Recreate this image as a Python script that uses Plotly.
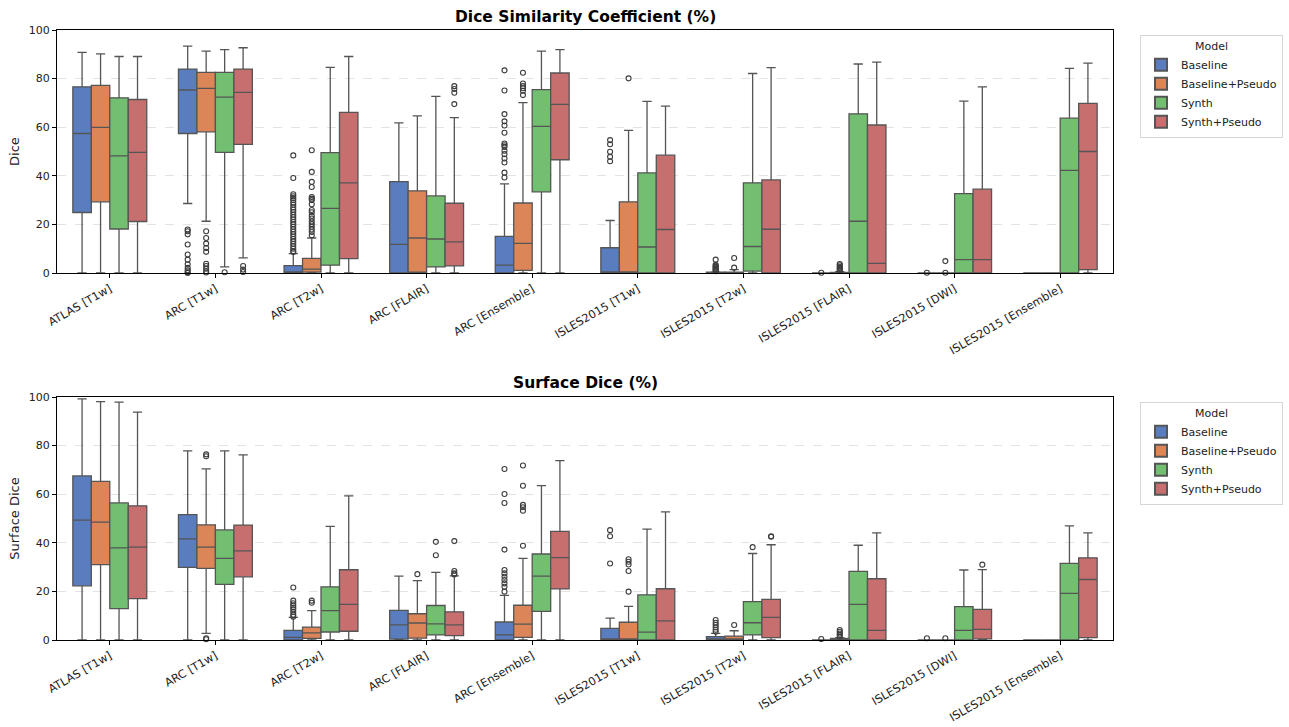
import plotly.graph_objects as go

categories = ["ATLAS [T1w]", "ARC [T1w]", "ARC [T2w]", "ARC [FLAIR]", "ARC [Ensemble]",
              "ISLES2015 [T1w]", "ISLES2015 [T2w]", "ISLES2015 [FLAIR]", "ISLES2015 [DWI]",
              "ISLES2015 [Ensemble]"]
models = ["Baseline", "Baseline+Pseudo", "Synth", "Synth+Pseudo"]
colors = ["#597dbf", "#db8559", "#73bf71", "#c76e6e"]

# ---- Dice: per category [lower whisker, q1, median, q3, upper whisker] ----
dice_baseline = [[0, 24.9, 57.4, 76.6, 90.8], [28.6, 57.4, 75.3, 83.9, 93.4], [0, 0, 0.2, 3.0, 8.0],
                 [0, 0, 11.8, 37.6, 61.8], [0, 0, 3.2, 15.1, 36.7], [0, 0, 0, 10.4, 21.6],
                 [0, 0, 0, 0.3, 0.5], [0, 0, 0, 0, 0], [0, 0, 0, 0, 0], [0, 0, 0, 0, 0]]
dice_baseline_pseudo = [[0, 29.3, 59.9, 77.2, 90.2], [21.3, 58.1, 76.0, 82.6, 91.3], [0, 0.4, 1.6, 6.0, 14.4],
                        [0, 0.3, 14.4, 33.8, 64.7], [0, 1.1, 12.2, 28.8, 70.1], [0, 0, 0, 29.3, 58.7],
                        [0, 0, 0, 0.3, 1.4], [0, 0, 0, 0.2, 0.6], [0, 0, 0, 0, 0], [0, 0, 0, 0, 0]]
dice_synth = [[0, 18.1, 48.2, 72.1, 89.1], [2.5, 49.6, 72.4, 82.6, 91.9], [0, 3.2, 26.6, 49.5, 84.6],
              [0, 2.5, 14.0, 31.7, 72.7], [0, 33.4, 60.3, 75.5, 91.3], [0, 0, 10.7, 41.2, 70.6],
              [0, 0.8, 10.9, 37.1, 82.1], [0, 0, 21.3, 65.5, 86.0], [0, 0, 5.5, 32.7, 70.7],
              [0, 0, 42.2, 63.7, 84.2]]
dice_synth_pseudo = [[0, 21.2, 49.6, 71.4, 89.1], [6.2, 52.9, 74.3, 83.9, 92.7], [0, 5.9, 37.1, 66.1, 89.1],
                     [0, 2.9, 12.8, 28.7, 63.9], [0, 46.6, 69.4, 82.3, 91.9], [0, 0, 17.9, 48.5, 68.7],
                     [0, 0, 18.0, 38.3, 84.5], [0, 0, 4.0, 60.9, 86.8], [0, 0, 5.5, 34.5, 76.6],
                     [0, 1.4, 50.0, 69.8, 86.4]]

dice_baseline_out = [[], [17.9, 17.2, 15.9, 11.7, 7.6, 5.5, 3.6, 2.1, 1.1, 0.3, 0.0],
                     [48.4, 39.1, 32.4, 31.6, 30.8, 30.0, 29.0, 28.1, 27.0, 26.0, 25.1, 24.0, 23.0, 22.0,
                      21.0, 20.0, 19.0, 18.0, 17.0, 16.0, 15.0, 14.0, 13.0, 12.0, 11.0, 10.0, 9.0, 8.6],
                     [], [83.4, 75.1, 65.4, 62.4, 60.7, 57.7, 53.3, 52.6, 51.9, 50.3, 48.9, 47.1, 45.5, 41.3, 39.3],
                     [54.7, 53.0, 49.9, 47.8, 46.0], [5.5, 3.4, 3.0, 2.6, 2.2, 1.8, 1.4, 1.0, 0.7],
                     [0.1], [0.1], []]
dice_baseline_pseudo_out = [[], [17.2, 14.4, 12.1, 10.3, 8.7, 3.8, 2.9, 1.8, 0.7, 0.2],
                            [50.5, 41.6, 37.5, 35.4, 31.3, 30.6, 30.0, 28.3, 25.9, 25.0, 23.5, 22.4, 21.2,
                             20.1, 19.0, 17.9, 16.9, 15.5],
                            [], [82.4, 78.0, 76.9, 76.0, 75.0, 73.2], [80.1], [6.2, 2.2],
                            [3.7, 3.2, 2.6, 2.1, 1.6, 1.1, 0.8], [4.9, 0.1], []]
dice_synth_out = [[], [0.3], [], [], [], [], [], [], [], []]
dice_synth_pseudo_out = [[], [2.9, 1.4, 0.4], [], [76.9, 75.7, 74.2, 69.5], [], [], [], [], [], []]

# ---- Surface Dice ----
sdice_baseline = [[0, 22.3, 49.3, 67.5, 99.2], [0, 29.9, 41.6, 51.6, 77.8], [0, 0, 1.1, 4.0, 9.3],
                  [0, 0.4, 6.2, 12.2, 26.3], [0, 0, 2.1, 7.4, 18.4], [0, 0, 0, 4.8, 9.0],
                  [0, 0, 0.5, 1.4, 2.7], [0, 0, 0, 0, 0], [0, 0, 0, 0, 0], [0, 0, 0, 0, 0]]
sdice_baseline_pseudo = [[0, 31.0, 48.5, 65.3, 98.1], [2.7, 29.5, 38.2, 47.4, 70.4], [0, 0.7, 2.9, 5.3, 12.1],
                         [0, 0.8, 7.0, 10.8, 24.4], [0, 1.1, 6.5, 14.3, 33.6], [0, 0, 0, 7.3, 13.8],
                         [0, 0, 0.3, 1.6, 3.8], [0, 0, 0.3, 0.7, 1.0], [0, 0, 0, 0, 0], [0, 0, 0, 0, 0]]
sdice_synth = [[0, 12.9, 37.9, 56.4, 97.9], [0, 22.9, 33.6, 45.3, 77.8], [0, 3.3, 12.1, 21.9, 46.8],
               [0, 2.1, 6.6, 14.2, 27.8], [0, 11.8, 26.3, 35.4, 63.5], [0, 0, 3.2, 18.6, 45.6],
               [0, 2.1, 7.1, 15.8, 35.6], [0, 0, 14.7, 28.2, 39.0], [0, 0, 4.0, 13.7, 28.8],
               [0, 0, 19.2, 31.5, 47.0]]
sdice_synth_pseudo = [[0, 17.0, 38.2, 55.2, 93.8], [0, 26.0, 36.7, 47.3, 76.2], [0, 3.6, 14.7, 28.9, 59.3],
                      [0, 1.8, 6.2, 11.6, 26.4], [0, 21.0, 33.9, 44.7, 73.8], [0, 0, 7.9, 21.1, 52.7],
                      [0, 1.0, 9.3, 16.7, 39.2], [0, 0, 4.0, 25.2, 44.1], [0, 0.5, 4.4, 12.6, 29.0],
                      [0, 1.0, 24.9, 33.8, 44.1]]

sdice_baseline_out = [[], [], [21.6, 16.2, 15.1, 14.2, 13.4, 12.6, 11.5, 10.4, 9.6],
                      [], [70.4, 60.1, 56.4, 37.2, 28.8, 27.4, 26.0, 24.7, 23.3, 21.9, 19.9],
                      [45.2, 42.7, 31.5], [8.2, 7.1, 6.2, 5.2, 4.2, 3.4], [0.4], [0.7], []]
sdice_baseline_pseudo_out = [[], [76.4, 75.6, 0.7, 0.3], [16.2, 15.3], [27.1],
                             [71.8, 63.5, 55.6, 54.6, 53.2, 38.8], [33.2, 32.2, 31.1, 28.4, 19.9],
                             [6.2], [4.1, 3.4, 2.7, 2.1, 1.4], [0.7], []]
sdice_synth_out = [[], [], [], [40.4, 34.9], [], [], [38.2], [], [], []]
sdice_synth_pseudo_out = [[], [], [], [40.7, 28.4, 27.4, 27.0], [], [], [42.7, 42.5], [], [31.0], []]

panels = [
    ("Dice Similarity Coefficient (%)", "Dice",
     [dice_baseline, dice_baseline_pseudo, dice_synth, dice_synth_pseudo],
     [dice_baseline_out, dice_baseline_pseudo_out, dice_synth_out, dice_synth_pseudo_out]),
    ("Surface Dice (%)", "Surface Dice",
     [sdice_baseline, sdice_baseline_pseudo, sdice_synth, sdice_synth_pseudo],
     [sdice_baseline_out, sdice_baseline_pseudo_out, sdice_synth_out, sdice_synth_pseudo_out]),
]

W, H = 1289, 727
X0, X1 = 57 / W, 1113 / W
domains = [(1 - 273 / H, 1 - 30 / H), (1 - 640 / H, 1 - 397 / H)]
title_y = [1 - 17 / H, 1 - 383 / H]
legend_y = [1 - 35 / H, 1 - 402 / H]
FONT = "DejaVu Sans"
EDGE = "#555555"

fig = go.Figure()
layout_extra = {}
annotations = []
for p, (title, ylab, stats, outs) in enumerate(panels):
    xa = "x" if p == 0 else "x2"
    ya = "y" if p == 0 else "y2"
    leg = "legend" if p == 0 else "legend2"
    for m, name in enumerate(models):
        rows = stats[m]
        fig.add_trace(go.Box(
            name=name, x=categories, orientation="v",
            lowerfence=[r[0] for r in rows], q1=[r[1] for r in rows], median=[r[2] for r in rows],
            q3=[r[3] for r in rows], upperfence=[r[4] for r in rows],
            fillcolor=colors[m], line=dict(color=EDGE, width=1.3),
            whiskerwidth=0.5, offsetgroup=name, alignmentgroup=f"a{p}",
            xaxis=xa, yaxis=ya, legend=leg, hoverinfo="skip",
        ))
    for m, name in enumerate(models):
        ox = [categories[c] for c in range(len(categories)) for _ in outs[m][c]]
        oy = [v for c in range(len(categories)) for v in outs[m][c]]
        fig.add_trace(go.Scatter(
            x=ox, y=oy, mode="markers", offsetgroup=name, alignmentgroup=f"s{p}",
            marker=dict(symbol="circle-open", size=5, color="#3d3d3d", line=dict(width=1.1, color="#3d3d3d")),
            xaxis=xa, yaxis=ya, showlegend=False, hoverinfo="skip", cliponaxis=False,
        ))
    axis_sfx = "" if p == 0 else "2"
    layout_extra["xaxis" + axis_sfx] = dict(
        domain=[X0, X1], anchor=ya, type="category", categoryorder="array", categoryarray=categories,
        range=[-0.5, len(categories) - 0.5],
        showline=True, mirror=True, linecolor="black", linewidth=1, ticks="outside", ticklen=4,
        tickcolor="black", tickangle=-30, tickfont=dict(family=FONT, size=11.3, color="#222"),
        showgrid=False, automargin=False, zeroline=False)
    layout_extra["yaxis" + axis_sfx] = dict(
        domain=list(domains[p]), anchor=xa, range=[0, 100], dtick=20, showline=True, mirror=True,
        linecolor="black", linewidth=1, ticks="outside", ticklen=4, tickcolor="black",
        tickfont=dict(family=FONT, size=11, color="#222"), showgrid=True, gridcolor="#e3e3e3",
        griddash="dash", gridwidth=1, zeroline=False, automargin=False,
        title=dict(text=ylab, font=dict(family=FONT, size=13, color="#222"), standoff=6))
    layout_extra["legend" if p == 0 else "legend2"] = dict(
        x=1140 / W, y=legend_y[p], xanchor="left", yanchor="top",
        bgcolor="white", bordercolor="#d6d6d6", borderwidth=1,
        font=dict(family=FONT, size=11, color="#222"),
        title=dict(text="Model", side="top center", font=dict(family=FONT, size=11, color="#222")),
        tracegroupgap=0, itemsizing="constant")
    annotations.append(dict(text=f"<b>{title}</b>", x=(X0 + X1) / 2, y=title_y[p], xref="paper",
                            yref="paper", xanchor="center", yanchor="middle", showarrow=False,
                            font=dict(family=FONT, size=15.5, color="black")))

fig.update_layout(
    width=W, height=H, margin=dict(l=0, r=0, t=0, b=0),
    paper_bgcolor="white", plot_bgcolor="white",
    boxmode="group", boxgap=0.3, boxgroupgap=0,
    scattermode="group", scattergap=0.3,
    showlegend=True, annotations=annotations, **layout_extra)

fig.write_html("out.html", config={"displayModeBar": False},
               post_script="document.body.style.margin='0';")
